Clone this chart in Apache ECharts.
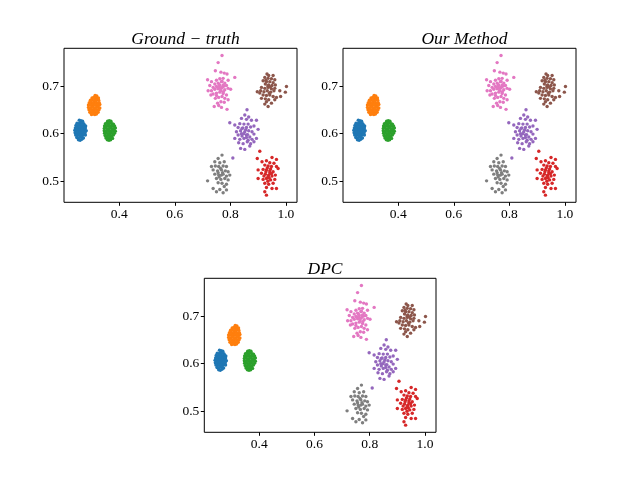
<!DOCTYPE html>
<html>
<head>
<meta charset="utf-8">
<script src="https://cdn.jsdelivr.net/npm/echarts@6/dist/echarts.min.js"></script>
<style>html,body{margin:0;padding:0;background:#fff}#c{width:640px;height:480px}</style>
</head>
<body>
<div id="c"></div>
<script>
const panelTitles = ['Ground \u2212 truth', 'Our Method', 'DPC'];
const xTicks = [0.4, 0.6, 0.8, 1.0];
const yTicks = [0.5, 0.6, 0.7];
const clusterColors = ['#1f77b4','#ff7f0e','#2ca02c','#d62728','#9467bd','#8c564b','#e377c2','#7f7f7f'];

const blue = [
[0.256,0.628],[0.262,0.627],[0.268,0.626],
[0.248,0.622],[0.254,0.621],[0.260,0.623],[0.266,0.622],[0.272,0.621],
[0.244,0.617],[0.250,0.616],[0.256,0.618],[0.262,0.617],[0.268,0.616],[0.274,0.618],[0.279,0.616],
[0.242,0.612],[0.248,0.611],[0.254,0.613],[0.260,0.612],[0.266,0.611],[0.272,0.613],[0.278,0.612],
[0.240,0.607],[0.246,0.606],[0.252,0.608],[0.258,0.607],[0.264,0.606],[0.270,0.608],[0.276,0.607],[0.281,0.606],
[0.241,0.602],[0.247,0.601],[0.253,0.603],[0.259,0.602],[0.265,0.601],[0.271,0.603],[0.277,0.602],
[0.243,0.597],[0.249,0.596],[0.255,0.598],[0.261,0.597],[0.267,0.596],[0.273,0.598],[0.278,0.597],
[0.247,0.592],[0.253,0.591],[0.259,0.593],[0.265,0.592],[0.271,0.591],
[0.253,0.587],[0.259,0.586],[0.265,0.588]
];
const orange = [
[0.313,0.680],[0.319,0.679],
[0.302,0.675],[0.308,0.676],[0.314,0.675],[0.320,0.674],[0.325,0.675],
[0.296,0.670],[0.302,0.671],[0.308,0.669],[0.314,0.670],[0.320,0.671],[0.326,0.670],
[0.292,0.665],[0.298,0.666],[0.304,0.664],[0.310,0.665],[0.316,0.666],[0.322,0.664],[0.328,0.665],
[0.289,0.660],[0.295,0.661],[0.301,0.659],[0.307,0.660],[0.313,0.661],[0.319,0.659],[0.325,0.660],[0.330,0.661],
[0.289,0.655],[0.295,0.654],[0.301,0.656],[0.307,0.655],[0.313,0.654],[0.319,0.656],[0.325,0.655],[0.330,0.654],
[0.291,0.650],[0.297,0.651],[0.303,0.649],[0.309,0.650],[0.315,0.651],[0.321,0.649],[0.327,0.650],
[0.294,0.645],[0.300,0.644],[0.306,0.646],[0.312,0.645],[0.318,0.644],[0.324,0.645],
[0.300,0.640],[0.306,0.641],[0.312,0.640],[0.318,0.641]
];
const green = [
[0.358,0.626],[0.364,0.627],[0.370,0.626],
[0.350,0.621],[0.356,0.622],[0.362,0.621],[0.368,0.622],[0.374,0.621],[0.379,0.620],
[0.347,0.616],[0.353,0.615],[0.359,0.617],[0.365,0.616],[0.371,0.615],[0.377,0.617],[0.383,0.616],
[0.346,0.611],[0.352,0.612],[0.358,0.610],[0.364,0.611],[0.370,0.612],[0.376,0.610],[0.382,0.611],[0.386,0.612],
[0.346,0.606],[0.352,0.605],[0.358,0.607],[0.364,0.606],[0.370,0.605],[0.376,0.607],[0.382,0.606],[0.386,0.605],
[0.347,0.601],[0.353,0.602],[0.359,0.600],[0.365,0.601],[0.371,0.602],[0.377,0.600],[0.383,0.601],
[0.349,0.596],[0.355,0.595],[0.361,0.597],[0.367,0.596],[0.373,0.595],[0.379,0.597],
[0.352,0.591],[0.358,0.590],[0.364,0.592],[0.370,0.591],[0.376,0.590],
[0.357,0.587],[0.363,0.586],[0.369,0.587]
];
const red = [
[0.906,0.563],[0.897,0.548],[0.950,0.550],[0.966,0.546],[0.914,0.541],[0.930,0.543],[0.942,0.539],[0.957,0.538],
[0.924,0.534],[0.936,0.532],[0.948,0.531],[0.966,0.531],[0.900,0.524],[0.918,0.525],[0.930,0.524],[0.942,0.522],
[0.954,0.520],[0.972,0.527],[0.912,0.517],[0.926,0.515],[0.938,0.513],[0.950,0.511],[0.962,0.513],[0.900,0.506],
[0.918,0.504],[0.930,0.506],[0.945,0.503],[0.960,0.504],[0.924,0.496],[0.938,0.494],[0.954,0.496],[0.930,0.487],
[0.950,0.485],[0.966,0.485],[0.924,0.478],[0.930,0.471],[0.936,0.510],[0.942,0.518],[0.933,0.528],[0.945,0.526],
[0.928,0.520],[0.940,0.507],[0.921,0.511],[0.935,0.500],[0.948,0.516]
];
const purple = [
[0.860,0.650],[0.852,0.639],[0.866,0.635],[0.840,0.632],[0.858,0.630],[0.876,0.628],[0.798,0.623],[0.816,0.618],
[0.834,0.621],[0.849,0.620],[0.864,0.620],[0.894,0.628],[0.828,0.613],[0.842,0.611],[0.858,0.613],[0.873,0.614],
[0.885,0.616],[0.822,0.604],[0.837,0.606],[0.852,0.604],[0.866,0.606],[0.878,0.604],[0.828,0.597],[0.842,0.595],
[0.858,0.597],[0.870,0.593],[0.885,0.599],[0.816,0.590],[0.834,0.588],[0.849,0.590],[0.864,0.586],[0.878,0.588],
[0.894,0.590],[0.830,0.581],[0.846,0.579],[0.861,0.583],[0.873,0.579],[0.885,0.583],[0.837,0.569],[0.852,0.567],
[0.870,0.574],[0.809,0.549],[0.858,0.592],[0.840,0.600],[0.900,0.609],[0.855,0.608],[0.848,0.600],[0.862,0.598],
[0.845,0.612]
];
const brown = [
[0.932,0.725],[0.938,0.722],[0.954,0.722],[0.924,0.718],[0.936,0.716],[0.948,0.715],[0.960,0.713],[0.918,0.711],
[0.930,0.709],[0.942,0.709],[0.954,0.707],[0.926,0.704],[0.938,0.702],[0.950,0.701],[0.962,0.702],[0.912,0.697],
[0.924,0.695],[0.936,0.697],[0.948,0.694],[0.960,0.695],[0.897,0.688],[0.909,0.690],[0.921,0.688],[0.933,0.690],
[0.945,0.687],[0.957,0.690],[0.978,0.690],[0.998,0.687],[1.002,0.699],[0.918,0.681],[0.930,0.680],[0.942,0.681],
[0.954,0.678],[0.966,0.676],[0.981,0.678],[0.912,0.674],[0.926,0.673],[0.938,0.671],[0.960,0.671],[0.924,0.662],
[0.936,0.657],[0.930,0.667],[0.948,0.664],[0.906,0.685],[0.935,0.700],[0.928,0.712],[0.944,0.698],[0.940,0.685]
];
const pink = [
[0.770,0.764],[0.756,0.749],[0.746,0.732],[0.766,0.729],[0.778,0.727],[0.788,0.725],[0.718,0.713],[0.816,0.718],
[0.732,0.709],[0.750,0.712],[0.762,0.715],[0.774,0.716],[0.792,0.712],[0.744,0.704],[0.756,0.706],[0.768,0.709],
[0.780,0.706],[0.726,0.701],[0.738,0.697],[0.750,0.699],[0.762,0.701],[0.774,0.702],[0.786,0.701],[0.801,0.693],
[0.720,0.690],[0.732,0.690],[0.744,0.693],[0.756,0.694],[0.768,0.695],[0.780,0.692],[0.792,0.695],[0.738,0.683],
[0.750,0.685],[0.762,0.687],[0.774,0.684],[0.786,0.681],[0.746,0.674],[0.758,0.676],[0.770,0.678],[0.780,0.674],
[0.792,0.671],[0.754,0.664],[0.766,0.667],[0.778,0.666],[0.742,0.657],[0.758,0.659],[0.768,0.655],[0.788,0.651],
[0.750,0.680],[0.730,0.681],[0.760,0.703],[0.772,0.698],[0.765,0.690],[0.778,0.700],[0.755,0.697],[0.770,0.710],
[0.762,0.695],[0.775,0.688]
];
const gray = [
[0.770,0.555],[0.756,0.548],[0.744,0.541],[0.762,0.539],[0.778,0.541],[0.732,0.531],[0.746,0.532],[0.758,0.531],
[0.774,0.532],[0.786,0.531],[0.738,0.524],[0.754,0.522],[0.768,0.524],[0.782,0.522],[0.792,0.520],[0.744,0.515],
[0.758,0.513],[0.774,0.515],[0.786,0.511],[0.798,0.513],[0.750,0.506],[0.766,0.504],[0.780,0.506],[0.792,0.503],
[0.718,0.501],[0.756,0.497],[0.770,0.496],[0.786,0.494],[0.778,0.489],[0.738,0.485],[0.762,0.483],[0.786,0.482],
[0.750,0.478],[0.774,0.476],[0.768,0.513],[0.756,0.518],[0.765,0.527],[0.772,0.518],[0.760,0.509]
];
const clusters = [blue, orange, green, red, purple, brown, pink, gray];

const FONT = "'Liberation Serif', 'DejaVu Serif', serif";
const panels = [
  {left: 64, top: 48.3, width: 233, height: 154, titleX: 180.5, titleY: 25},
  {left: 343, top: 48.3, width: 233, height: 154, titleX: 459.5, titleY: 25},
  {left: 204.3, top: 278.3, width: 231.7, height: 154, titleX: 320, titleY: 255}
];

const option = {
  animation: false,
  backgroundColor: '#fff',
  title: panels.map((p, i) => ({
    text: panelTitles[i], left: p.titleX, top: p.titleY, textAlign: 'center',
    textStyle: {fontFamily: FONT, fontStyle: 'italic', fontWeight: 'normal', fontSize: 17.5, color: '#000'}
  })),
  grid: panels.map(p => ({left: p.left, top: p.top, width: p.width, height: p.height,
    show: true, borderColor: '#000', borderWidth: 1, backgroundColor: 'transparent'})),
  xAxis: panels.map((p, i) => ({
    type: 'value', gridIndex: i, min: 0.201, max: 1.04,
    axisLine: {show: false},
    splitLine: {show: false},
    axisTick: {show: true, inside: false, length: 3.5, customValues: xTicks, lineStyle: {color: '#000', width: 1}},
    axisLabel: {show: true, customValues: xTicks, margin: 5, color: '#000', fontFamily: FONT, fontSize: 13.5,
      formatter: v => Number(v).toFixed(1)}
  })),
  yAxis: panels.map((p, i) => ({
    type: 'value', gridIndex: i, min: 0.456, max: 0.779,
    axisLine: {show: false},
    splitLine: {show: false},
    axisTick: {show: true, inside: false, length: 3.5, customValues: yTicks, lineStyle: {color: '#000', width: 1}},
    axisLabel: {show: true, customValues: yTicks, margin: 5, color: '#000', fontFamily: FONT, fontSize: 13.5,
      formatter: v => Number(v).toFixed(1)}
  })),
  series: []
};
panels.forEach((p, i) => {
  clusters.forEach((c, k) => {
    option.series.push({
      type: 'scatter', xAxisIndex: i, yAxisIndex: i, data: c,
      symbol: 'circle', symbolSize: 3.4,
      itemStyle: {color: clusterColors[k], opacity: 1},
      silent: true
    });
  });
});
const chart = echarts.init(document.getElementById('c'), null, {renderer: 'canvas'});
chart.setOption(option);
</script>
</body>
</html>
